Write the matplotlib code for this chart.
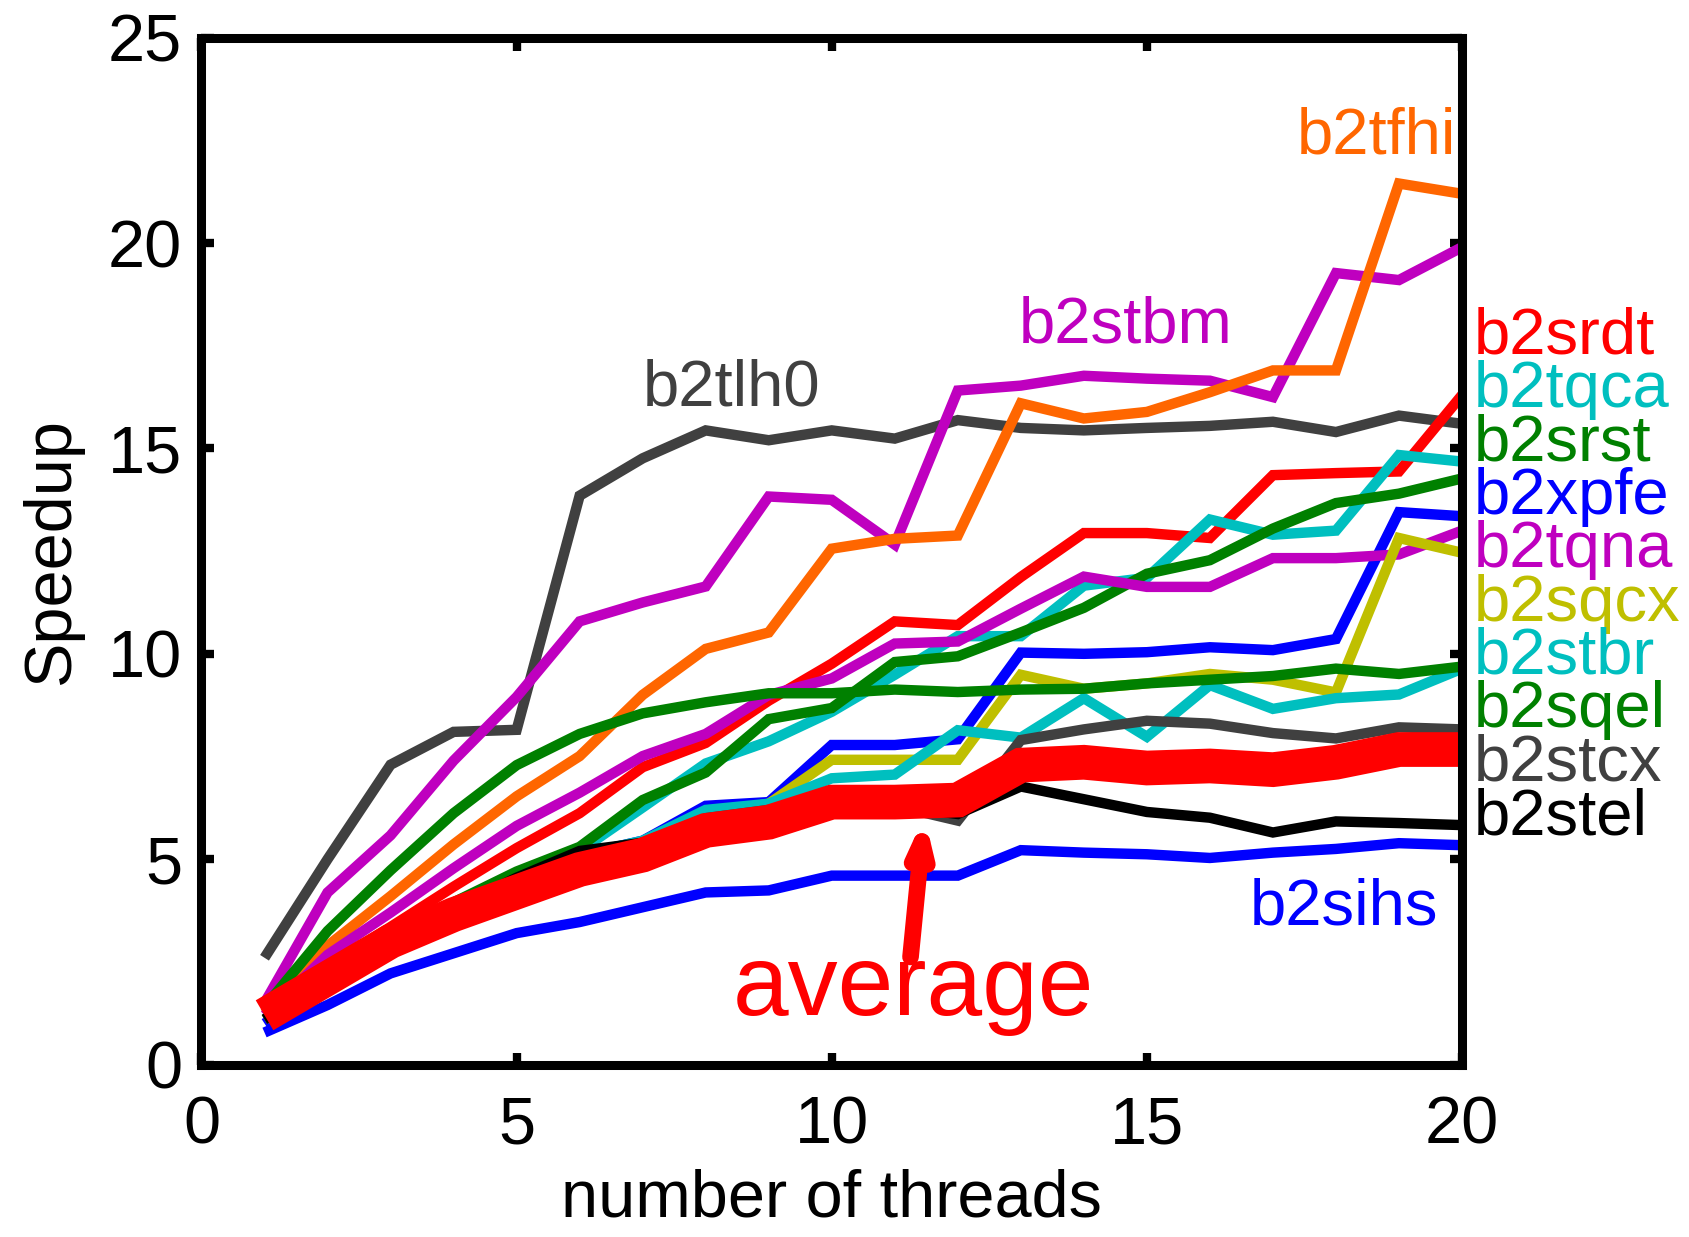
import matplotlib
matplotlib.use("Agg")
import matplotlib.pyplot as plt

plt.rcParams['font.family'] = ['Liberation Sans', 'DejaVu Sans']

threads = [1, 2, 3, 4, 5, 6, 7, 8, 9, 10, 11, 12, 13, 14, 15, 16, 17, 18, 19, 20]

b2tlh0 = [2.6, 5.0, 7.3, 8.1, 8.15, 13.85, 14.76, 15.44, 15.2, 15.44, 15.24, 15.69, 15.5, 15.44, 15.5, 15.55, 15.65, 15.4, 15.8, 15.6]
b2stbm = [1.5, 4.19, 5.58, 7.4, 8.95, 10.79, 11.25, 11.64, 13.83, 13.75, 12.66, 16.41, 16.53, 16.77, 16.7, 16.65, 16.25, 19.27, 19.1, 19.9]
b2tfhi = [1.25, 2.89, 4.1, 5.36, 6.53, 7.51, 9.0, 10.12, 10.52, 12.56, 12.8, 12.88, 16.1, 15.73, 15.89, 16.37, 16.9, 16.9, 21.45, 21.2]
b2srdt = [1.3, 2.4, 3.35, 4.33, 5.27, 6.12, 7.24, 7.83, 8.86, 9.76, 10.79, 10.7, 11.87, 12.94, 12.94, 12.82, 14.35, 14.4, 14.44, 16.3]
b2tqca = [1.2, 2.2, 3.1, 3.85, 4.55, 5.2, 6.26, 7.33, 7.87, 8.59, 9.49, 10.43, 10.43, 11.66, 11.85, 13.27, 12.9, 13.0, 14.84, 14.68]
b2srst = [1.2, 2.2, 3.1, 3.95, 4.7, 5.3, 6.44, 7.11, 8.41, 8.68, 9.8, 9.94, 10.52, 11.12, 11.95, 12.28, 13.05, 13.67, 13.9, 14.27]
b2xpfe = [1.0, 2.0, 2.95, 3.75, 4.45, 5.1, 5.45, 6.3, 6.39, 7.78, 7.78, 7.92, 10.03, 10.0, 10.04, 10.16, 10.09, 10.36, 13.45, 13.35]
b2tqna = [1.2, 2.67, 3.7, 4.78, 5.81, 6.62, 7.51, 8.05, 9.0, 9.4, 10.25, 10.3, 11.1, 11.88, 11.63, 11.63, 12.33, 12.33, 12.42, 13.0]
b2sqcx = [1.1, 2.1, 2.9, 3.4, 4.1, 4.8, 5.3, 6.1, 6.35, 7.42, 7.42, 7.42, 9.49, 9.15, 9.28, 9.51, 9.37, 9.06, 12.82, 12.46]
b2stbr = [1.1, 2.1, 3.0, 3.8, 4.5, 5.1, 5.45, 6.2, 6.35, 6.97, 7.06, 8.14, 7.96, 8.92, 7.98, 9.24, 8.66, 8.92, 9.01, 9.64]
b2sqel = [1.4, 3.25, 4.73, 6.12, 7.29, 8.05, 8.55, 8.82, 9.04, 9.04, 9.13, 9.07, 9.13, 9.15, 9.28, 9.37, 9.46, 9.64, 9.51, 9.69]
b2stcx = [1.1, 2.0, 2.9, 3.8, 4.5, 5.1, 5.4, 6.0, 6.2, 6.3, 6.3, 5.94, 7.9, 8.16, 8.37, 8.3, 8.07, 7.94, 8.21, 8.16]
b2stel = [1.1, 2.0, 2.9, 3.8, 4.55, 5.2, 5.4, 5.9, 6.1, 6.3, 6.3, 6.1, 6.77, 6.46, 6.15, 6.01, 5.65, 5.92, 5.88, 5.83]
b2sihs = [0.78, 1.45, 2.22, 2.71, 3.2, 3.47, 3.83, 4.19, 4.24, 4.6, 4.6, 4.6, 5.22, 5.16, 5.12, 5.03, 5.16, 5.25, 5.39, 5.34]
average = [1.2, 2.1, 3.0, 3.65, 4.2, 4.75, 5.1, 5.7, 5.9, 6.39, 6.39, 6.44, 7.29, 7.36, 7.22, 7.27, 7.18, 7.36, 7.67, 7.67]

# name, values, colour
series = [
    ('b2tlh0', b2tlh0, '#404040'),
    ('b2stbm', b2stbm, '#BF00BF'),
    ('b2tfhi', b2tfhi, '#FF6600'),
    ('b2srdt', b2srdt, '#FF0000'),
    ('b2tqca', b2tqca, '#00BFBF'),
    ('b2srst', b2srst, '#008000'),
    ('b2xpfe', b2xpfe, '#0000FF'),
    ('b2tqna', b2tqna, '#BF00BF'),
    ('b2sqcx', b2sqcx, '#BFBF00'),
    ('b2stbr', b2stbr, '#00BFBF'),
    ('b2sqel', b2sqel, '#008000'),
    ('b2stcx', b2stcx, '#404040'),
    ('b2stel', b2stel, '#000000'),
    ('b2sihs', b2sihs, '#0000FF'),
]
colors = dict((n, c) for n, _, c in series)

# labels stacked at the right of the axes
right_labels = ['b2srdt', 'b2tqca', 'b2srst', 'b2xpfe', 'b2tqna',
                'b2sqcx', 'b2stbr', 'b2sqel', 'b2stcx', 'b2stel']

fig = plt.figure(figsize=(16.89, 12.37), dpi=100)
ax = fig.add_axes([0.1193, 0.1394, 0.7463, 0.8301])

for name, vals, col in series:
    ax.plot(threads, vals, color=col, lw=7.5, solid_capstyle='butt', solid_joinstyle='miter')
ax.plot(threads, average, color='#FF0000', lw=25, solid_capstyle='butt', solid_joinstyle='miter')

ax.set_xlim(0, 20)
ax.set_ylim(0, 25)
ax.set_xticks([0, 5, 10, 15, 20])
ax.set_yticks([0, 5, 10, 15, 20, 25])
for s in ax.spines.values():
    s.set_linewidth(6.5)
ax.tick_params(direction='in', length=9, width=6, labelsize=48,
               top=True, right=True)
ax.tick_params(axis='x', pad=22)
ax.tick_params(axis='y', pad=14)
ax.set_xlabel('number of threads', fontsize=48, labelpad=8)
ax.set_ylabel('Speedup', fontsize=48, labelpad=18)

fs = 47
# in-plot labels
ax.text(19.91, 22.19, 'b2tfhi', color=colors['b2tfhi'], fontsize=fs, ha='right', va='baseline')
ax.text(12.97, 17.58, 'b2stbm', color=colors['b2stbm'], fontsize=fs, ha='left', va='baseline')
ax.text(7.01, 16.05, 'b2tlh0', color=colors['b2tlh0'], fontsize=fs, ha='left', va='baseline')
ax.text(16.63, 3.41, 'b2sihs', color=colors['b2sihs'], fontsize=fs, ha='left', va='baseline')

y0 = 17.31
for i, name in enumerate(right_labels):
    ax.text(20.19, y0 - 1.30 * i, name, color=colors[name], fontsize=fs,
            ha='left', va='baseline', clip_on=False)

ax.text(8.43, 1.21, 'average', color='#FF0000', fontsize=72, ha='left', va='baseline')
ax.annotate('', xy=(11.47, 6.05), xytext=(11.25, 2.62),
            arrowprops=dict(arrowstyle='-|>,head_width=0.55,head_length=1.6',
                            color='#FF0000', lw=12, shrinkA=0, shrinkB=0))

fig.savefig('out.png', dpi=100)
